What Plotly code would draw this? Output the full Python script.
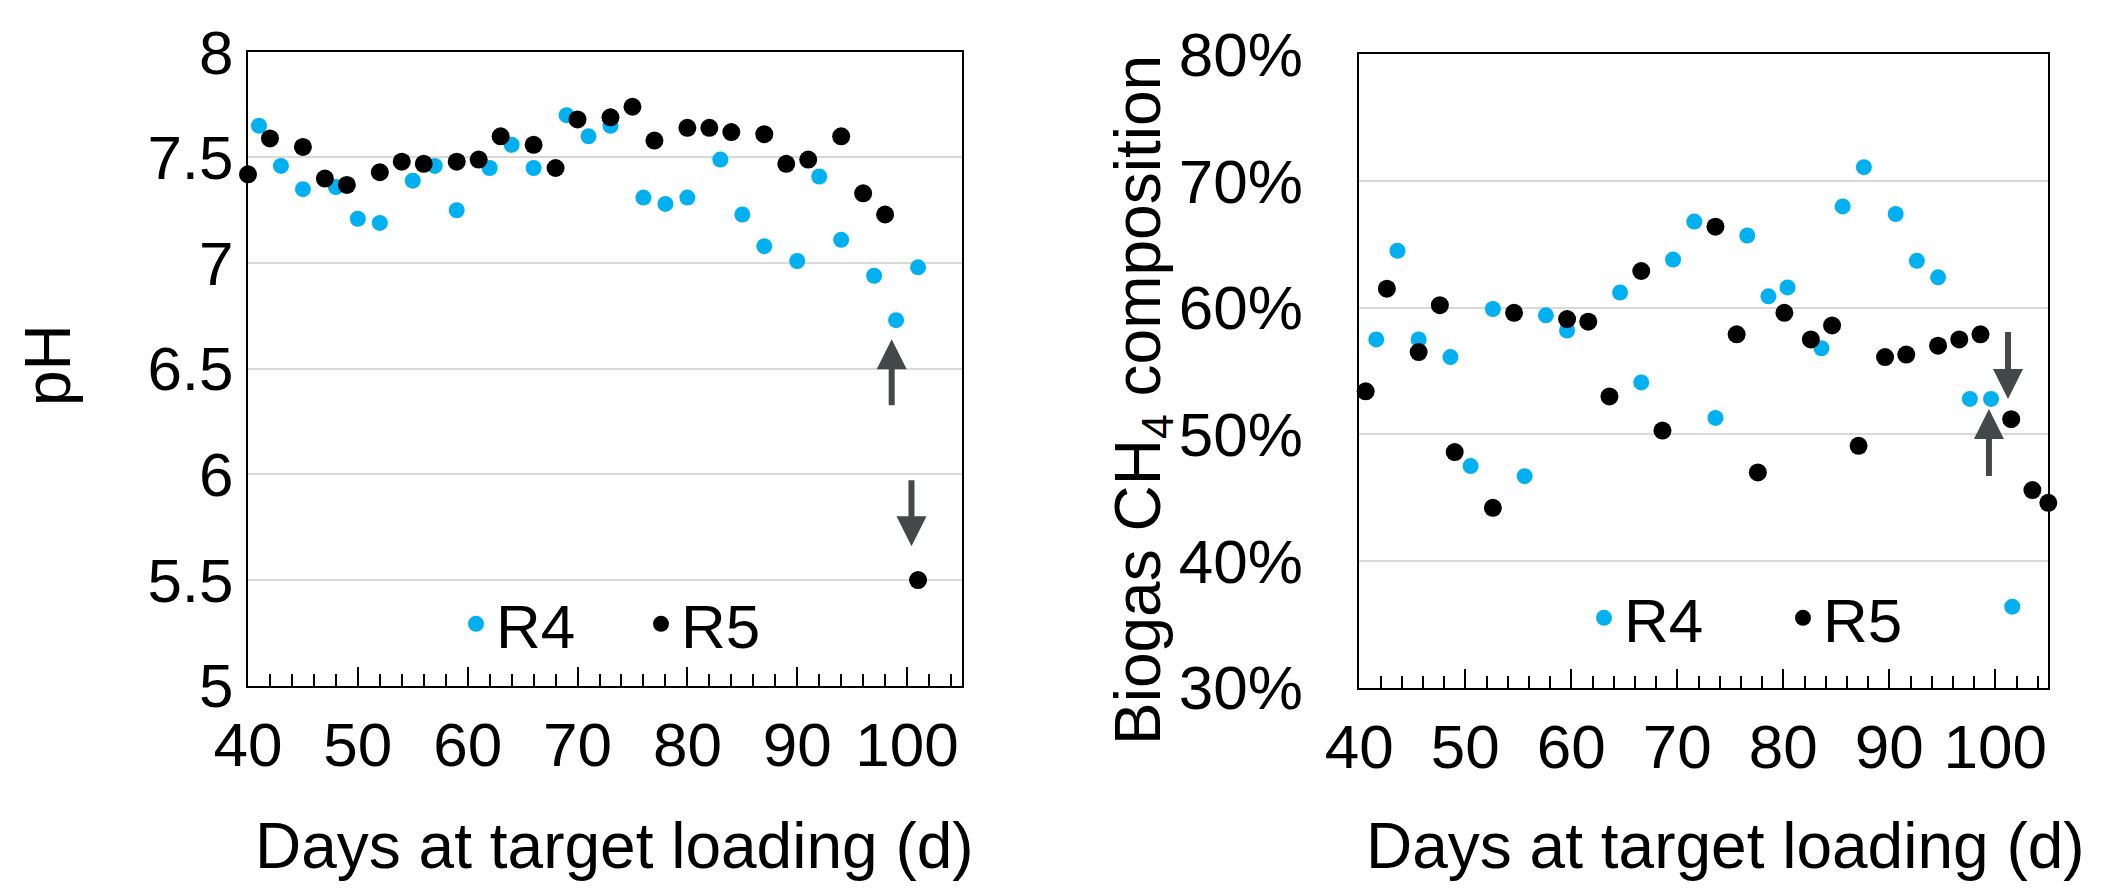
import plotly.graph_objects as go

# ---------------- data ----------------
# pH (left panel)
ph_r4_days = [41, 43, 45, 48, 50, 52, 55, 57, 59, 62, 64, 66, 69, 71, 73, 76, 78, 80, 83, 85, 87, 90, 92, 94, 97, 99, 101]
ph_r4 = [7.65, 7.46, 7.35, 7.36, 7.21, 7.19, 7.39, 7.46, 7.25, 7.45, 7.56, 7.45, 7.70, 7.60, 7.65, 7.31, 7.28, 7.31,
         7.49, 7.23, 7.08, 7.01, 7.41, 7.11, 6.94, 6.73, 6.98]
ph_r5_days = [40, 42, 45, 47, 49, 52, 54, 56, 59, 61, 63, 66, 68, 70, 73, 75, 77, 80, 82, 84, 87, 89, 91, 94, 96, 98, 101]
ph_r5 = [7.42, 7.59, 7.55, 7.40, 7.37, 7.43, 7.48, 7.47, 7.48, 7.49, 7.60, 7.56, 7.45, 7.68, 7.69, 7.74, 7.58, 7.64,
         7.64, 7.62, 7.61, 7.47, 7.49, 7.60, 7.33, 7.23, 5.50]

# CH4 composition, % (right panel)
ch4_r4_days = [41.6, 43.6, 45.6, 48.6, 50.5, 52.6, 55.6, 57.6, 59.6, 64.6, 66.6, 69.6, 71.6, 73.6, 76.6, 78.6, 80.4,
               83.6, 85.6, 87.6, 90.6, 92.6, 94.6, 97.6, 99.6, 101.6]
ch4_r4 = [57.5, 64.5, 57.5, 56.1, 47.5, 59.9, 46.7, 59.4, 58.2, 61.2, 54.1, 63.8, 66.8, 51.3, 65.7, 60.9, 61.6,
          56.8, 68.0, 71.1, 67.4, 63.7, 62.4, 52.8, 52.8, 36.4]
ch4_r5_days = [40.6, 42.6, 45.6, 47.6, 49.0, 52.6, 54.6, 59.6, 61.6, 63.6, 66.6, 68.6, 73.6, 75.6, 77.6, 80.1, 82.6,
               84.6, 87.1, 89.6, 91.6, 94.6, 96.6, 98.6, 101.5, 103.5, 105.0]
ch4_r5 = [53.4, 61.5, 56.5, 60.2, 48.6, 44.2, 59.6, 59.1, 58.9, 53.0, 62.9, 50.3, 66.4, 57.9, 47.0, 59.6, 57.5,
          58.6, 49.1, 56.1, 56.3, 57.0, 57.5, 57.9, 51.2, 45.6, 44.6]

series_names = ["R4", "R5"]
x_tick_vals = [40, 50, 60, 70, 80, 90, 100]

# arrows: (x, tail_y, tip_y)
ph_arrows = [(98.6, 6.32, 6.64), (100.4, 5.98, 5.66)]
ch4_arrows = [(101.2, 58.2, 52.8), (99.4, 46.6, 52.0)]

# ---------------- style ----------------
BLUE = "#00B0F0"
BLACK = "#000000"
ARROW = "#434948"
GRID = "#d9d9d9"
FONT = "Liberation Sans, Arial, sans-serif"
FS = 62
FS_TITLE = 64
W, H = 2126, 890

fig = go.Figure()

fig.add_trace(go.Scatter(x=ph_r4_days, y=ph_r4, mode="markers", name=series_names[0],
                         marker=dict(color=BLUE, size=16), cliponaxis=False,
                         xaxis="x", yaxis="y", legend="legend"))
fig.add_trace(go.Scatter(x=ph_r5_days, y=ph_r5, mode="markers", name=series_names[1],
                         marker=dict(color=BLACK, size=18), cliponaxis=False,
                         xaxis="x", yaxis="y", legend="legend"))
fig.add_trace(go.Scatter(x=ch4_r4_days, y=ch4_r4, mode="markers", name=series_names[0],
                         marker=dict(color=BLUE, size=16), cliponaxis=False,
                         xaxis="x2", yaxis="y2", legend="legend2"))
fig.add_trace(go.Scatter(x=ch4_r5_days, y=ch4_r5, mode="markers", name=series_names[1],
                         marker=dict(color=BLACK, size=18), cliponaxis=False,
                         xaxis="x2", yaxis="y2", legend="legend2"))


def xaxis_cfg(domain, anchor):
    return dict(domain=domain, anchor=anchor, range=[40, 105], automargin=False,
                tickmode="array", tickvals=x_tick_vals,
                ticks="inside", ticklen=19, tickwidth=2, tickcolor="black",
                minor=dict(ticks="inside", dtick=2, tick0=40, ticklen=12, tickwidth=2,
                           tickcolor="black", showgrid=False),
                showline=True, linecolor="black", linewidth=2, mirror=True,
                showgrid=False, zeroline=False,
                tickfont=dict(family=FONT, size=FS, color="black"),
                ticklabelstandoff=4)


def yaxis_cfg(domain, anchor, rng, dtick, suffix, standoff):
    return dict(domain=domain, anchor=anchor, range=rng, dtick=dtick, tick0=rng[0], automargin=False,
                ticksuffix=suffix, ticks="",
                showline=True, linecolor="black", linewidth=2, mirror=True,
                showgrid=True, gridcolor=GRID, gridwidth=1.5, zeroline=False,
                tickfont=dict(family=FONT, size=FS, color="black"),
                ticklabelstandoff=standoff)


x1_dom = [248 / W, 962 / W]
y1_dom = [(H - 685.7) / H, (H - 51.8) / H]
x2_dom = [1359.3 / W, 2048.3 / W]
y2_dom = [(H - 687.7) / H, (H - 54.4) / H]

fig.update_layout(
    width=W, height=H, autosize=False,
    margin=dict(l=0, r=0, t=0, b=0, autoexpand=False),
    paper_bgcolor="white", plot_bgcolor="white",
    font=dict(family=FONT, size=FS, color="black"),
    xaxis=xaxis_cfg(x1_dom, "y"),
    yaxis=yaxis_cfg(y1_dom, "x", [5, 8], 0.5, "", 0),
    xaxis2=xaxis_cfg(x2_dom, "y2"),
    yaxis2=yaxis_cfg(y2_dom, "x2", [30, 80], 10, "%", 42),
    legend=dict(orientation="h", x=456 / W, xanchor="left", y=(H - 624) / H, yanchor="middle",
                bgcolor="rgba(0,0,0,0)", font=dict(family=FONT, size=FS, color="black"),
                entrywidth=140, entrywidthmode="pixels", itemclick=False),
    legend2=dict(orientation="h", x=1584 / W, xanchor="left", y=(H - 618) / H, yanchor="middle",
                 bgcolor="rgba(0,0,0,0)", font=dict(family=FONT, size=FS, color="black"),
                 entrywidth=154, entrywidthmode="pixels", itemclick=False),
)

annotations = []
# axis titles
annotations.append(dict(text="Days at target loading (d)", xref="paper", yref="paper",
                        x=614 / W, y=(H - 846) / H, xanchor="center", yanchor="middle",
                        showarrow=False, font=dict(family=FONT, size=FS_TITLE, color="black")))
annotations.append(dict(text="Days at target loading (d)", xref="paper", yref="paper",
                        x=1725 / W, y=(H - 846) / H, xanchor="center", yanchor="middle",
                        showarrow=False, font=dict(family=FONT, size=FS_TITLE, color="black")))
annotations.append(dict(text="pH", xref="paper", yref="paper",
                        x=48 / W, y=(H - 365) / H, xanchor="center", yanchor="middle", textangle=-90,
                        showarrow=False, font=dict(family=FONT, size=FS_TITLE, color="black")))
annotations.append(dict(text="Biogas CH<sub>4</sub> composition", xref="paper", yref="paper",
                        x=1142 / W, y=(H - 400) / H, xanchor="center", yanchor="middle", textangle=-90,
                        showarrow=False, font=dict(family=FONT, size=FS_TITLE, color="black")))

for (xa, tail, tip) in ph_arrows:
    annotations.append(dict(x=xa, y=tip, ax=xa, ay=tail, xref="x", yref="y", axref="x", ayref="y",
                            text="", showarrow=True, arrowhead=2, arrowsize=1.0, arrowwidth=6,
                            arrowcolor=ARROW))
for (xa, tail, tip) in ch4_arrows:
    annotations.append(dict(x=xa, y=tip, ax=xa, ay=tail, xref="x2", yref="y2", axref="x2", ayref="y2",
                            text="", showarrow=True, arrowhead=2, arrowsize=1.0, arrowwidth=6,
                            arrowcolor=ARROW))

fig.update_layout(annotations=annotations)

fig.write_html("out.html", config=dict(displayModeBar=False),
               post_script="document.body.style.margin='0';document.body.style.overflow='hidden';")
